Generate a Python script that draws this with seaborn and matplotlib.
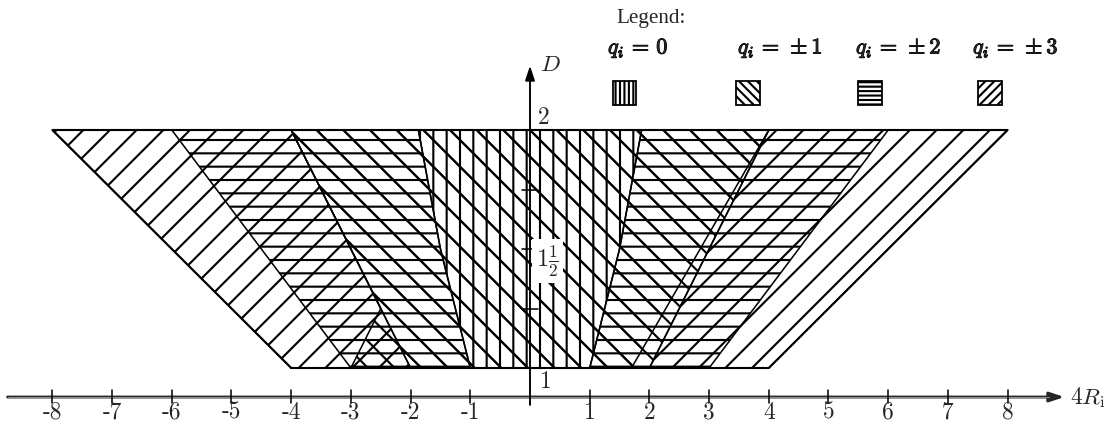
import numpy as np
import pandas as pd
import matplotlib
matplotlib.use("Agg")
import matplotlib.pyplot as plt
from matplotlib.patches import Rectangle
import matplotlib.patheffects as pe
import seaborn as sns

# ---- data -------------------------------------------------------------
# allowed regions in the (4R_i, D) plane for each charge q_i
q0_x = [-1.0, 1.0, 1.5, 1.87, -1.87, -1.5]
q0_D = [1.0, 1.0, 1.5, 2.0, 2.0, 1.5]

q1_plus_x = [-2.0, 2.0, 4.0, -4.0]
q1_plus_D = [1.0, 1.0, 2.0, 2.0]
q1_minus_x = [-3.0, 1.7, 4.0, -4.0, -2.5]
q1_minus_D = [1.0, 1.0, 2.0, 2.0, 1.25]

q2_left_x = [-3.0, -1.0, -1.5, -1.87, -6.0]
q2_left_D = [1.0, 1.0, 1.5, 2.0, 2.0]

q3_left_x = [-4.0, -2.0, -4.0, -8.0]
q3_left_D = [1.0, 1.0, 2.0, 2.0]

# outer boundary of the allowed domain
outer_x = [-4.0, 4.0, 8.0, -8.0, -4.0]
outer_D = [1.0, 1.0, 2.0, 2.0, 1.0]

x_ticks = [-8, -7, -6, -5, -4, -3, -2, -1, 1, 2, 3, 4, 5, 6, 7, 8]
D_minor = [1.25, 1.5, 1.75]

legend_labels = [r"$q_i\,=\,0$", r"$q_i\,=\,\pm 1$", r"$q_i\,=\,\pm 2$", r"$q_i\,=\,\pm 3$"]
legend_hatches = ["|||", "\\\\\\", "---", "///"]

# ---- style ------------------------------------------------------------
sns.set_theme(style="white")
plt.rcParams["font.family"] = ["Liberation Serif", "DejaVu Serif"]
plt.rcParams["mathtext.fontset"] = "cm"
plt.rcParams["hatch.linewidth"] = 1.9

DPI = 80
fig = plt.figure(figsize=(1114 / DPI, 433 / DPI), dpi=DPI)
ax = fig.add_axes([0, 0, 1, 1])
ax.set_xlim(-530 / 59.7, (1114 - 530) / 59.7)
ax.set_ylim(1 - 65 / 238, 1 + 368 / 238)
ax.axis("off")


def mirror(xs):
    return [-v for v in xs]


regions = [
    (q3_left_x, q3_left_D, "/"),
    (mirror(q3_left_x), q3_left_D, "/"),
    (q2_left_x, q2_left_D, "-"),
    (mirror(q2_left_x), q2_left_D, "-"),
    (q1_plus_x, q1_plus_D, "\\"),
    (q1_minus_x, q1_minus_D, "\\"),
    (q0_x, q0_D, "|"),
]
for xs, ds, h in regions:
    ax.fill(xs, ds, facecolor="none", edgecolor="black", hatch=h, lw=1.4, zorder=2)

# outer outline
outline = pd.DataFrame({"x": outer_x, "D": outer_D})
sns.lineplot(data=outline, x="x", y="D", sort=False, estimator=None,
             color="black", lw=1.9, ax=ax, zorder=3)

# ---- axes drawn by hand ------------------------------------------------
y_axis_level = 0.878
ax.annotate("", xy=(8.95, y_axis_level), xytext=(-8.75, y_axis_level),
            arrowprops=dict(arrowstyle="-|>,head_length=0.9,head_width=0.3",
                            lw=2.6, color="0.15", shrinkA=0, shrinkB=0), zorder=4)
ax.plot([-8.75, 8.7], [y_axis_level] * 2, color="0.75", lw=0.6, zorder=5)
for t in x_ticks:
    ax.plot([t, t], [y_axis_level - 0.025, y_axis_level + 0.03], color="black", lw=1.4, zorder=5)
    ax.text(t, 0.812, f"{t}", ha="center", va="center", fontsize=21,
            family="cmr10", zorder=5)
ax.text(9.05, y_axis_level, r"$4R_{\mathrm{i}}$", ha="left", va="center", fontsize=21)

ax.annotate("", xy=(0, 2.27), xytext=(0, 0.845),
            arrowprops=dict(arrowstyle="-|>,head_length=0.9,head_width=0.3",
                            lw=1.7, color="black", shrinkA=0, shrinkB=0), zorder=6)
for d in D_minor:
    ax.plot([-0.13, 0.13], [d, d], color="black", lw=1.4, zorder=6)
ax.text(0.17, 2.27, r"$D$", ha="left", va="center", fontsize=21, zorder=6)
ax.text(0.13, 2.05, "2", ha="left", va="center", fontsize=21, family="cmr10", zorder=6)
ax.text(0.16, 0.94, "1", ha="left", va="center", fontsize=21, family="cmr10", zorder=6)
ax.text(0.1, 1.45, r"$1\frac{1}{2}$", ha="left", va="center", fontsize=22, zorder=7,
        bbox=dict(facecolor="white", edgecolor="none", pad=4))

# ---- legend -----------------------------------------------------------
fig.text(616 / 1114, 1 - 19 / 433, "Legend:", ha="left", va="center", fontsize=19)
label_x = [608, 738, 856, 973]
box_x = [612, 735, 857, 977]
box_w = [25, 26, 26, 26]
bold = [pe.withStroke(linewidth=0.9, foreground="black")]
for lab, lx, bx, bw, h in zip(legend_labels, label_x, box_x, box_w, legend_hatches):
    fig.text(lx / 1114, 1 - 48 / 433, lab, ha="left", va="center", fontsize=20,
             path_effects=bold)
    bax = fig.add_axes([bx / 1114, 1 - 106 / 433, bw / 1114, 26 / 433])
    bax.set_xlim(0, 1)
    bax.set_ylim(0, 1)
    bax.axis("off")
    bax.add_patch(Rectangle((0.03, 0.03), 0.94, 0.94, facecolor="white",
                            edgecolor="black", hatch=h, lw=1.6))

fig.savefig("out.png", dpi=DPI)
